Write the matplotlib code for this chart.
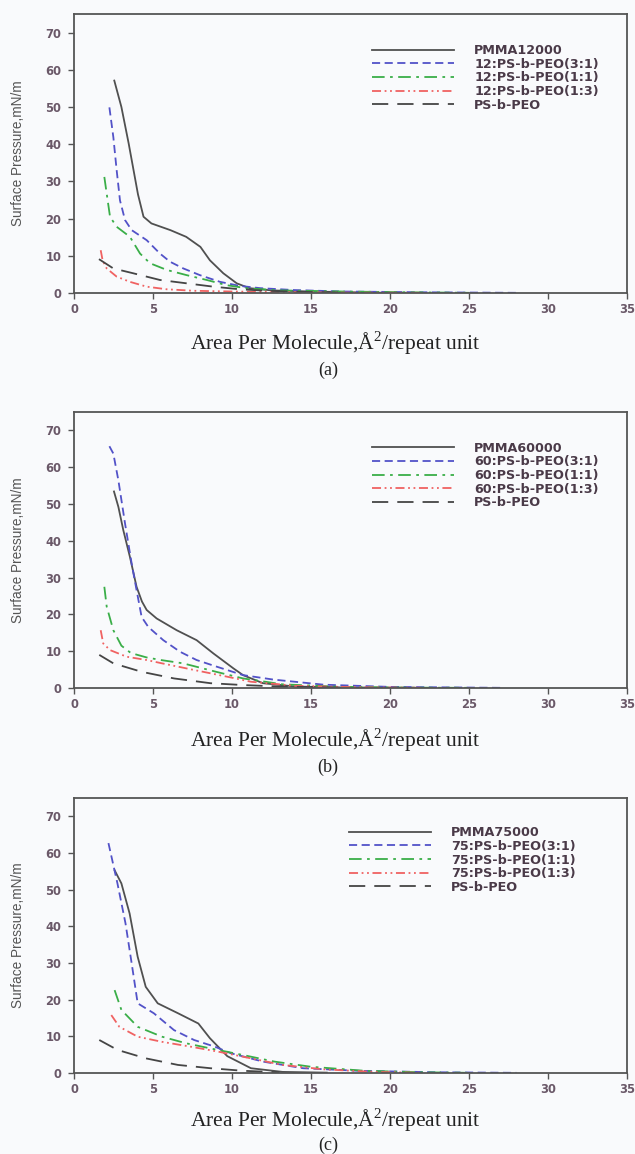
import matplotlib
matplotlib.use("Agg")
import matplotlib.pyplot as plt

plt.rcParams["mathtext.fontset"] = "custom"
plt.rcParams["mathtext.rm"] = "Liberation Serif"

# ---- panel (a): PMMA 12000 ----
a_pmma_x = [2.55, 3.0, 3.46, 4.05, 4.4, 4.9, 6.1, 7.1, 8.0, 8.6, 9.45, 10.3, 11.1, 12.5, 15, 19, 22]
a_pmma_y = [57.1, 50, 40.2, 26.5, 20.5, 18.7, 16.9, 15.1, 12.4, 8.8, 5.3, 2.6, 1.3, 0.7, 0.4, 0.1, 0.0]
a_31_x = [2.24, 2.49, 2.7, 2.91, 3.23, 3.65, 4.6, 5.44, 6.08, 6.92, 7.97, 9.24, 10.5, 11.8, 13.9, 17, 22, 28]
a_31_y = [49.9, 41.9, 33, 24.9, 19.6, 16.9, 14.2, 10.6, 8.4, 6.6, 4.8, 3.0, 1.9, 1.3, 0.8, 0.4, 0.2, 0.05]
a_11_x = [1.92, 2.07, 2.28, 2.7, 3.54, 4.18, 4.81, 5.87, 7.13, 8.4, 9.66, 10.9, 13, 17, 21, 25]
a_11_y = [31.2, 26.7, 20.5, 17.8, 15.1, 10.6, 8.0, 6.2, 4.8, 3.5, 2.1, 1.3, 0.7, 0.4, 0.2, 0.05]
a_13_x = [1.69, 1.81, 2.07, 2.7, 3.54, 4.6, 5.87, 7.55, 10, 13, 17, 22]
a_13_y = [11.5, 8.8, 6.6, 4.4, 3.0, 1.7, 1.0, 0.6, 0.4, 0.25, 0.1, 0.05]
a_peo_x = [1.58, 2.49, 3.75, 5.44, 7.13, 8.82, 10.5, 12.2, 14.5, 17]
a_peo_y = [9.1, 6.6, 5.3, 3.5, 2.6, 1.7, 1.0, 0.6, 0.3, 0.1]

# ---- panel (b): PMMA 60000 ----
b_pmma_x = [2.53, 2.81, 3.12, 3.54, 3.96, 4.3, 4.6, 5.23, 6.5, 7.76, 8.82, 10.1, 10.7, 11.96, 14, 17, 22]
b_pmma_y = [53.4, 49.2, 42.9, 35.6, 27.5, 23.5, 21.2, 18.9, 15.7, 13.0, 9.4, 5.3, 3.5, 1.3, 0.4, 0.15, 0.05]
b_31_x = [2.24, 2.49, 2.81, 3.23, 3.65, 3.96, 4.28, 4.7, 5.65, 6.71, 7.76, 9.03, 10.7, 12.6, 15.8, 20, 27]
b_31_y = [65.7, 63.7, 56.4, 44.7, 33.8, 26.6, 19.3, 16.6, 13.0, 9.85, 7.6, 5.8, 3.5, 2.3, 0.9, 0.3, 0.05]
b_11_x = [1.92, 2.07, 2.49, 3.0, 3.6, 4.6, 5.5, 6.9, 9.0, 10.7, 13.2, 17, 21, 25]
b_11_y = [27.5, 22.1, 15.7, 11.5, 9.5, 8.3, 7.6, 6.7, 4.4, 2.6, 1.0, 0.3, 0.1, 0.05]
b_13_x = [1.69, 1.85, 2.28, 3.33, 4.6, 5.57, 7.6, 9.66, 11.2, 14, 18, 22]
b_13_y = [15.7, 12.1, 10.3, 8.5, 7.6, 6.7, 4.9, 3.1, 1.7, 0.6, 0.2, 0.05]
b_peo_x = [1.6, 2.49, 4.28, 6.33, 8.64, 10.7, 13, 17]
b_peo_y = [9.0, 6.7, 4.4, 2.6, 1.3, 0.8, 0.4, 0.1]

# ---- panel (c): PMMA 75000 ----
c_pmma_x = [2.57, 3.0, 3.52, 4.03, 4.54, 5.3, 6.58, 7.87, 8.6, 9.7, 11.2, 13.2, 16]
c_pmma_y = [55.3, 51.7, 43.5, 31.7, 23.5, 19.0, 16.3, 13.5, 9.5, 4.6, 1.3, 0.3, 0.1]
c_31_x = [2.18, 2.75, 3.26, 3.65, 4.03, 5.05, 6.33, 7.6, 8.9, 9.92, 11.96, 14.5, 18, 23, 28]
c_31_y = [62.7, 51.7, 40.8, 29.9, 19.0, 16.3, 11.7, 9.0, 7.2, 5.4, 3.1, 1.3, 0.6, 0.2, 0.05]
c_11_x = [2.57, 3.0, 4.03, 5.57, 7.1, 8.64, 10.7, 12.7, 15.0, 18.4, 22, 25]
c_11_y = [22.6, 17.2, 12.6, 9.9, 8.1, 6.7, 4.9, 3.1, 1.7, 0.6, 0.2, 0.05]
c_13_x = [2.36, 2.87, 4.03, 5.57, 7.36, 9.15, 11.2, 13.2, 15.8, 19, 22]
c_13_y = [15.8, 12.6, 9.9, 8.5, 7.2, 5.8, 4.0, 2.2, 1.0, 0.3, 0.05]
c_peo_x = [1.6, 2.75, 4.54, 6.58, 8.64, 10.7, 13]
c_peo_y = [9.0, 6.3, 4.0, 2.2, 1.3, 0.6, 0.2]

panel_tags = ["(a)", "(b)", "(c)"]
panel_prefix = ["12", "60", "75"]
pmma_names = ["PMMA12000", "PMMA60000", "PMMA75000"]

panels = [
    [(a_pmma_x, a_pmma_y), (a_31_x, a_31_y), (a_11_x, a_11_y), (a_13_x, a_13_y), (a_peo_x, a_peo_y)],
    [(b_pmma_x, b_pmma_y), (b_31_x, b_31_y), (b_11_x, b_11_y), (b_13_x, b_13_y), (b_peo_x, b_peo_y)],
    [(c_pmma_x, c_pmma_y), (c_31_x, c_31_y), (c_11_x, c_11_y), (c_13_x, c_13_y), (c_peo_x, c_peo_y)],
]

styles = [
    dict(color="#505050", lw=1.3, ls="-"),
    dict(color="#5252c8", lw=1.3, ls=(0, (4.5, 2.5))),
    dict(color="#3aae48", lw=1.3, ls=(0, (7, 3, 1.5, 3))),
    dict(color="#f06262", lw=1.3, ls=(0, (5, 2, 1, 2, 1, 2))),
    dict(color="#454545", lw=1.3, ls=(0, (9, 5))),
]

bg = "#f9fafc"
fig = plt.figure(figsize=(6.35, 11.54), dpi=100, facecolor=bg)
W, H = 635, 1154

# axes boxes in pixels: (top, bottom)
boxes = [(14, 293), (412, 688), (798, 1073)]
legend_x = [0.539, 0.539, 0.497]
legend_y = [0.892, 0.892, 0.897]
xlabel_y = [343, 740, 1120]
tag_y = [370, 767, 1145]

tick_col = "#6a5868"
for i in range(3):
    top, bot = boxes[i]
    ax = fig.add_axes([74 / W, 1 - bot / H, (627 - 74) / W, (bot - top) / H])
    ax.set_facecolor(bg)
    p = panel_prefix[i]
    labels = [pmma_names[i], f"{p}:PS-b-PEO(3:1)", f"{p}:PS-b-PEO(1:1)",
              f"{p}:PS-b-PEO(1:3)", "PS-b-PEO"]
    for (xs, ys), st, lab in zip(panels[i], styles, labels):
        ax.plot(xs, ys, label=lab, **st)
    ax.set_xlim(0, 35)
    ax.set_ylim(0, 75)
    ax.set_xticks(range(0, 36, 5))
    ax.set_yticks(range(0, 71, 10))
    for s in ax.spines.values():
        s.set_color("#555555")
        s.set_linewidth(1.3)
    ax.tick_params(direction="out", length=4.3, width=1.0, color="#555555",
                   labelcolor=tick_col, labelsize=8.3)
    ax.tick_params(axis="y", pad=5)
    ax.tick_params(axis="x", pad=3)
    for t in ax.get_xticklabels() + ax.get_yticklabels():
        t.set_fontweight("bold")
        t.set_family("DejaVu Sans")
    ax.set_ylabel("Surface Pressure,mN/m", family="Liberation Sans",
                  fontsize=9.8, color="#555555")
    ax.yaxis.set_label_coords(-0.088, 0.5)
    leg = ax.legend(loc="upper left", bbox_to_anchor=(legend_x[i], legend_y[i]),
                    frameon=False, borderpad=0, borderaxespad=0,
                    handlelength=6.4, handletextpad=1.6, labelspacing=0.05,
                    prop=dict(family="DejaVu Sans", weight="bold", size=9.2))
    for t in leg.get_texts():
        t.set_color("#4a3a48")
    fig.text(335 / W, 1 - xlabel_y[i] / H, "Area Per Molecule,Å$^2$/repeat unit",
             family="Liberation Serif", fontsize=15.5, ha="center", va="center",
             color="#222222")
    fig.text(328 / W, 1 - tag_y[i] / H, panel_tags[i], family="Liberation Serif",
             fontsize=13, ha="center", va="center", color="#222222")

fig.savefig("out.png", dpi=100, facecolor=bg)
